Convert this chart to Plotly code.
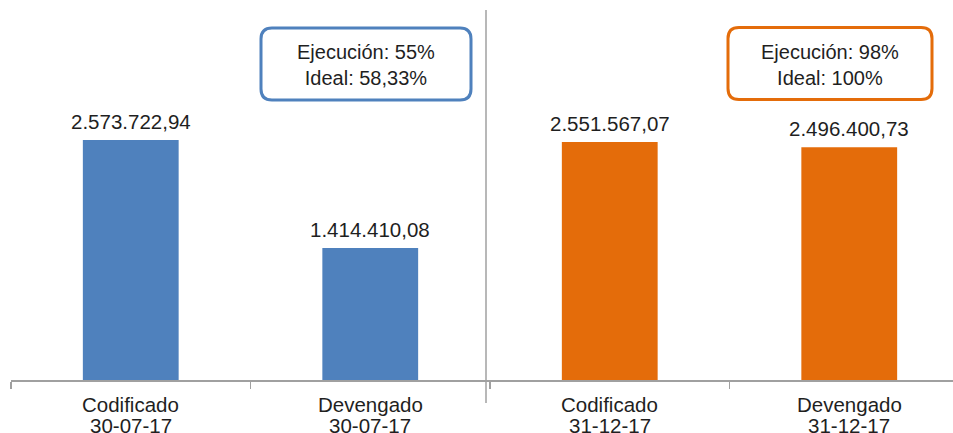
import plotly.graph_objects as go

# ---- data ----
categories = ["Codificado 30-07-17", "Devengado 30-07-17", "Codificado 31-12-17", "Devengado 31-12-17"]
label_line1 = ["Codificado", "Devengado", "Codificado", "Devengado"]
label_line2 = ["30-07-17", "30-07-17", "31-12-17", "31-12-17"]
values = [2573722.94, 1414410.08, 2551567.07, 2496400.73]
value_labels = ["2.573.722,94", "1.414.410,08", "2.551.567,07", "2.496.400,73"]
bar_colors = ["#4F81BD", "#4F81BD", "#E46C0A", "#E46C0A"]
box_texts = ["Ejecución: 55%<br>Ideal: 58,33%", "Ejecución: 98%<br>Ideal: 100%"]
box_colors = ["#4F81BD", "#E46C0A"]

FONT = "Liberation Sans, Arial, sans-serif"
TXT = "#1f1f1f"
GRAY = "#A0A0A0"

W, H = 953, 433
ML, MR, MT, MB = 11, 0, 7, 53
PW = W - ML - MR
PH = H - MT - MB
CAT_W = 239.5  # px per category

fig = go.Figure()
fig.add_trace(go.Bar(
    x=categories, y=values, marker=dict(color=bar_colors, line=dict(width=0)),
    width=0.4, hoverinfo="skip", showlegend=False,
))

annotations = []
for c, v, t in zip(categories, values, value_labels):
    annotations.append(dict(x=c, y=v, xref="x", yref="y", text=t, showarrow=False,
                            yanchor="bottom", yshift=5,
                            font=dict(family=FONT, size=20.5, color=TXT)))
for c, l1, l2 in zip(categories, label_line1, label_line2):
    annotations.append(dict(x=c, y=0, xref="x", yref="y", text=l1, showarrow=False,
                            yanchor="middle", yshift=-(404 - (H - MB)),
                            font=dict(family=FONT, size=20.5, color=TXT)))
    annotations.append(dict(x=c, y=0, xref="x", yref="y", text=l2, showarrow=False,
                            yanchor="middle", yshift=-(425.5 - (H - MB)),
                            font=dict(family=FONT, size=20.5, color=TXT)))


def px2paper(px, py):
    return (px - ML) / PW, (H - MB - py) / PH


def rounded_path(x0, y0, x1, y1, r):
    def P(x, y):
        a, b = px2paper(x, y)
        return f"{a:.5f},{b:.5f}"
    return (f"M{P(x0 + r, y0)} L{P(x1 - r, y0)} Q{P(x1, y0)} {P(x1, y0 + r)} "
            f"L{P(x1, y1 - r)} Q{P(x1, y1)} {P(x1 - r, y1)} "
            f"L{P(x0 + r, y1)} Q{P(x0, y1)} {P(x0, y1 - r)} "
            f"L{P(x0, y0 + r)} Q{P(x0, y0)} {P(x0 + r, y0)} Z")


boxes_px = [(261, 28, 471, 100), (728, 27.5, 932, 99.5)]
shapes = []
for (x0, y0, x1, y1), col, txt in zip(boxes_px, box_colors, box_texts):
    shapes.append(dict(type="path", xref="paper", yref="paper",
                       path=rounded_path(x0, y0, x1, y1, 11),
                       line=dict(color=col, width=3), fillcolor="white"))
    cx, cy = px2paper((x0 + x1) / 2, (y0 + y1) / 2 + 1)
    annotations.append(dict(x=cx, y=cy, xref="paper", yref="paper", text=txt,
                            showarrow=False, xanchor="center", yanchor="middle",
                            font=dict(family=FONT, size=20, color=TXT)))

# separator line
sx, sy0 = px2paper(486, 10)
_, sy1 = px2paper(486, 403)
shapes.append(dict(type="line", xref="paper", yref="paper", x0=sx, x1=sx, y0=sy0, y1=sy1,
                   line=dict(color=GRAY, width=1.5)))

fig.update_layout(
    width=W, height=H,
    margin=dict(l=ML, r=MR, t=MT, b=MB, pad=0),
    paper_bgcolor="white", plot_bgcolor="white",
    xaxis=dict(type="category", range=[-0.5, -0.5 + PW / CAT_W], showticklabels=False,
               tickson="boundaries", ticks="outside", ticklen=7, tickcolor=GRAY, tickwidth=1.5,
               showline=True, linecolor=GRAY, linewidth=1.5, showgrid=False, zeroline=False,
               fixedrange=True),
    yaxis=dict(range=[0, 4000000], visible=False, showgrid=False, zeroline=False, fixedrange=True),
    annotations=annotations, shapes=shapes, bargap=0.6,
)

fig.write_html("out.html", config={"displayModeBar": False, "staticPlot": True},
               post_script="document.body.style.margin='0px';document.body.style.overflow='hidden';")
